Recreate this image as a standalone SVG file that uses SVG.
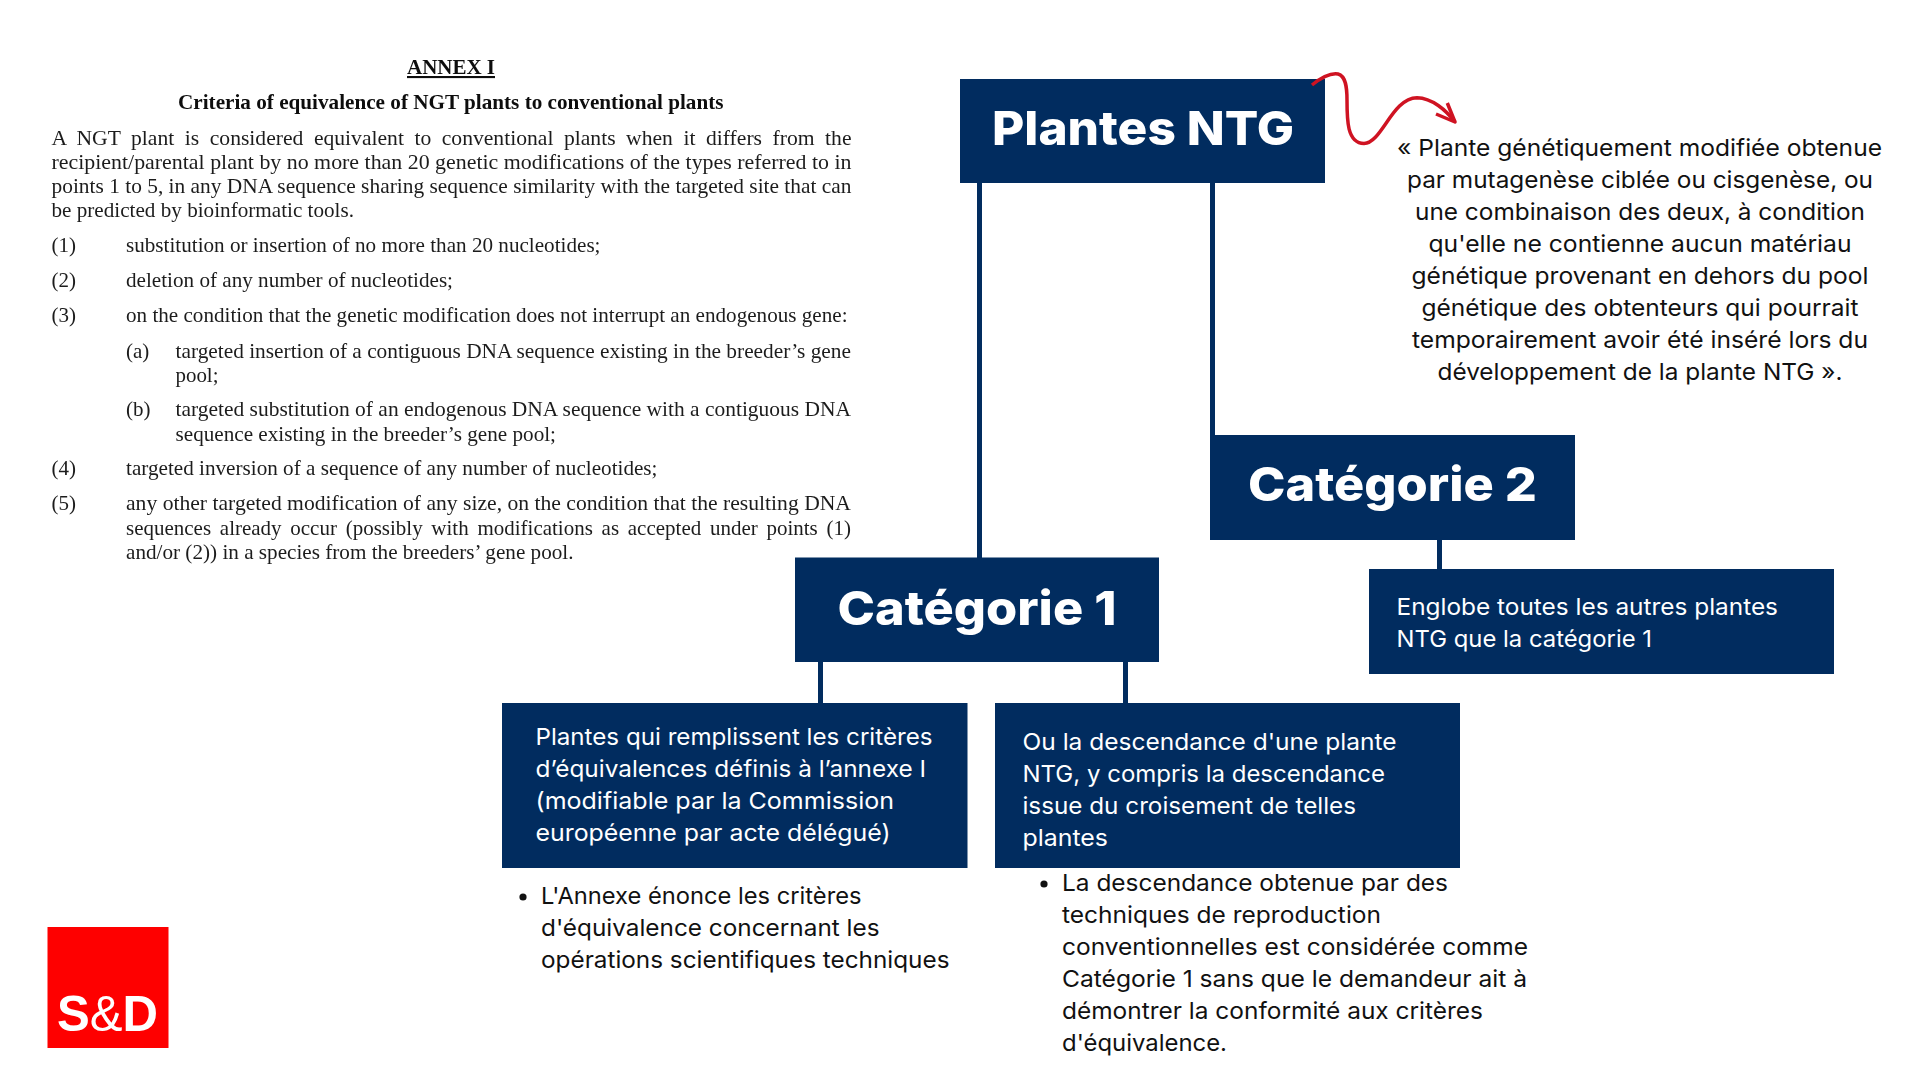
<svg xmlns="http://www.w3.org/2000/svg" width="1920" height="1080" viewBox="0 0 1920 1080">
<style>
.box{fill:#012c5f}
.link{stroke:#012c5f;stroke-width:5;fill:none}
.h{font-family:"Inter","Noto Sans",sans-serif;font-weight:800;font-size:47px;fill:#fff}
.w{font-family:"Inter","Noto Sans",sans-serif;font-size:23.5px;fill:#fff}
.k{font-family:"Inter","Noto Sans",sans-serif;font-size:23.5px;fill:#111}
.c{text-anchor:middle}
.d{font-family:"Liberation Serif","Times New Roman",serif;font-size:21px;fill:#1c1c1c}
.db{font-weight:700;fill:#111}
</style>
<defs>
<marker id="redhead" markerUnits="userSpaceOnUse" markerWidth="30" markerHeight="30" refX="25" refY="25" orient="0" viewBox="0 0 30 30"><path d="M6 17 L25 25 L17.3 6" fill="none" stroke="#cf1322" stroke-width="3.5" stroke-linejoin="round"/></marker>
<filter id="soft" x="-2%" y="-2%" width="104%" height="104%"><feGaussianBlur stdDeviation="0.4"/></filter>
</defs>
<rect width="1920" height="1080" fill="#fff"/>
<g id="annex-text" transform="translate(-0.5 -0.5)" filter="url(#soft)">
<text class="d db" x="407.5" y="74.5" textLength="88" lengthAdjust="spacingAndGlyphs" text-decoration="underline">ANNEX I</text>
<text class="d db" x="178.5" y="109" textLength="545.5" lengthAdjust="spacingAndGlyphs">Criteria of equivalence of NGT plants to conventional plants</text>
<text class="d" x="52" y="145" textLength="800" lengthAdjust="spacingAndGlyphs" word-spacing="5">A NGT plant is considered equivalent to conventional plants when it differs from the</text>
<text class="d" x="52" y="169" textLength="800" lengthAdjust="spacingAndGlyphs">recipient/parental plant by no more than 20 genetic modifications of the types referred to in</text>
<text class="d" x="52" y="193" textLength="800" lengthAdjust="spacingAndGlyphs">points 1 to 5, in any DNA sequence sharing sequence similarity with the targeted site that can</text>
<text class="d" x="52" y="217.5" textLength="302.5" lengthAdjust="spacingAndGlyphs">be predicted by bioinformatic tools.</text>
<text class="d" x="52" y="252.5">(1)</text>
<text class="d" x="126.5" y="252.5" textLength="474.5" lengthAdjust="spacingAndGlyphs">substitution or insertion of no more than 20 nucleotides;</text>
<text class="d" x="52" y="287">(2)</text>
<text class="d" x="126.5" y="287" textLength="327" lengthAdjust="spacingAndGlyphs">deletion of any number of nucleotides;</text>
<text class="d" x="52" y="322.5">(3)</text>
<text class="d" x="126.5" y="322.5" textLength="721.5" lengthAdjust="spacingAndGlyphs">on the condition that the genetic modification does not interrupt an endogenous gene:</text>
<text class="d" x="126.5" y="358">(a)</text>
<text class="d" x="176" y="358" textLength="675.5" lengthAdjust="spacingAndGlyphs">targeted insertion of a contiguous DNA sequence existing in the breeder’s gene</text>
<text class="d" x="176" y="382.5" textLength="43" lengthAdjust="spacingAndGlyphs">pool;</text>
<text class="d" x="126.5" y="416.5">(b)</text>
<text class="d" x="176" y="416.5" textLength="675.5" lengthAdjust="spacingAndGlyphs">targeted substitution of an endogenous DNA sequence with a contiguous DNA</text>
<text class="d" x="176" y="441.5" textLength="380.5" lengthAdjust="spacingAndGlyphs">sequence existing in the breeder’s gene pool;</text>
<text class="d" x="52" y="475.5">(4)</text>
<text class="d" x="126.5" y="475.5" textLength="531.5" lengthAdjust="spacingAndGlyphs">targeted inversion of a sequence of any number of nucleotides;</text>
<text class="d" x="52" y="510.5">(5)</text>
<text class="d" x="126.5" y="510.5" textLength="725" lengthAdjust="spacingAndGlyphs">any other targeted modification of any size, on the condition that the resulting DNA</text>
<text class="d" x="126.5" y="535" textLength="725" lengthAdjust="spacingAndGlyphs" word-spacing="3.5">sequences already occur (possibly with modifications as accepted under points (1)</text>
<text class="d" x="126.5" y="559" textLength="447.5" lengthAdjust="spacingAndGlyphs">and/or (2)) in a species from the breeders’ gene pool.</text>
</g>
<g id="connectors">
<path class="link" d="M979.5 183V558"/>
<path class="link" d="M1212.5 183V435"/>
<path class="link" d="M1439.5 540V569"/>
<path class="link" d="M820.5 662V703"/>
<path class="link" d="M1125.5 662V703"/>
</g>
<g id="plantes-ntg">
<rect class="box" x="960" y="79" width="365" height="104"/>
<text class="h" x="992" y="145" textLength="302" lengthAdjust="spacingAndGlyphs">Plantes NTG</text>
</g>
<g id="categorie-2">
<rect class="box" x="1210" y="435" width="365" height="105"/>
<text class="h" x="1248" y="501" textLength="289" lengthAdjust="spacingAndGlyphs">Catégorie 2</text>
</g>
<g id="categorie-1">
<rect class="box" x="795" y="557.5" width="364" height="104.5"/>
<text class="h" x="837.5" y="625" textLength="279" lengthAdjust="spacingAndGlyphs">Catégorie 1</text>
</g>
<g id="categorie-2-detail">
<rect class="box" x="1369" y="569" width="465" height="105"/>
<text class="w" x="1396.5" y="615" textLength="381.5" lengthAdjust="spacingAndGlyphs">Englobe toutes les autres plantes</text>
<text class="w" x="1396.5" y="647" textLength="255.5" lengthAdjust="spacingAndGlyphs">NTG que la catégorie 1</text>
</g>
<g id="categorie-1-criteres">
<rect class="box" x="502" y="703" width="465.5" height="165"/>
<text class="w" x="535.5" y="745" textLength="397" lengthAdjust="spacingAndGlyphs">Plantes qui remplissent les critères</text>
<text class="w" x="535.5" y="777" textLength="390.5" lengthAdjust="spacingAndGlyphs">d’équivalences définis à l’annexe I</text>
<text class="w" x="535.5" y="809" textLength="358.5" lengthAdjust="spacingAndGlyphs">(modifiable par la Commission</text>
<text class="w" x="535.5" y="841" textLength="355" lengthAdjust="spacingAndGlyphs">européenne par acte délégué)</text>
</g>
<g id="categorie-1-descendance">
<rect class="box" x="995" y="703" width="465" height="165"/>
<text class="w" x="1022.5" y="750" textLength="374" lengthAdjust="spacingAndGlyphs">Ou la descendance d'une plante</text>
<text class="w" x="1022.5" y="782" textLength="362.5" lengthAdjust="spacingAndGlyphs">NTG, y compris la descendance</text>
<text class="w" x="1022.5" y="814" textLength="333.5" lengthAdjust="spacingAndGlyphs">issue du croisement de telles</text>
<text class="w" x="1022.5" y="846" textLength="85.5" lengthAdjust="spacingAndGlyphs">plantes</text>
</g>
<g id="note-criteres">
<circle cx="523" cy="897" r="3.6" fill="#111"/>
<text class="k" x="541" y="904" textLength="320.5" lengthAdjust="spacingAndGlyphs">L'Annexe énonce les critères</text>
<text class="k" x="541" y="936" textLength="338.5" lengthAdjust="spacingAndGlyphs">d'équivalence concernant les</text>
<text class="k" x="541" y="968" textLength="408.5" lengthAdjust="spacingAndGlyphs">opérations scientifiques techniques</text>
</g>
<g id="note-descendance">
<circle cx="1044" cy="884" r="3.6" fill="#111"/>
<text class="k" x="1062" y="891" textLength="386" lengthAdjust="spacingAndGlyphs">La descendance obtenue par des</text>
<text class="k" x="1062" y="923" textLength="319" lengthAdjust="spacingAndGlyphs">techniques de reproduction</text>
<text class="k" x="1062" y="955" textLength="466" lengthAdjust="spacingAndGlyphs">conventionnelles est considérée comme</text>
<text class="k" x="1062" y="987" textLength="465" lengthAdjust="spacingAndGlyphs">Catégorie 1 sans que le demandeur ait à</text>
<text class="k" x="1062" y="1019" textLength="421" lengthAdjust="spacingAndGlyphs">démontrer la conformité aux critères</text>
<text class="k" x="1062" y="1051" textLength="165" lengthAdjust="spacingAndGlyphs">d'équivalence.</text>
</g>
<g id="definition">
<text class="k c" x="1639.5" y="156" textLength="485" lengthAdjust="spacingAndGlyphs">« Plante génétiquement modifiée obtenue</text>
<text class="k c" x="1640" y="188" textLength="466" lengthAdjust="spacingAndGlyphs">par mutagenèse ciblée ou cisgenèse, ou</text>
<text class="k c" x="1640" y="220" textLength="450" lengthAdjust="spacingAndGlyphs">une combinaison des deux, à condition</text>
<text class="k c" x="1640" y="252" textLength="423" lengthAdjust="spacingAndGlyphs">qu'elle ne contienne aucun matériau</text>
<text class="k c" x="1640" y="284" textLength="457" lengthAdjust="spacingAndGlyphs">génétique provenant en dehors du pool</text>
<text class="k c" x="1640" y="316" textLength="437" lengthAdjust="spacingAndGlyphs">génétique des obtenteurs qui pourrait</text>
<text class="k c" x="1640" y="348" textLength="456" lengthAdjust="spacingAndGlyphs">temporairement avoir été inséré lors du</text>
<text class="k c" x="1640" y="380" textLength="405" lengthAdjust="spacingAndGlyphs">développement de la plante NTG ».</text>
</g>
<path id="arrow" d="M1312 85C1322 77 1332 73 1338 74C1346 76 1347 88 1347 100C1347 120 1347 143 1364 143.5C1382 143 1392 98 1417 97.7C1432 98 1446 110 1455 122" fill="none" stroke="#cf1322" stroke-width="3.5" marker-end="url(#redhead)"/>
<g id="logo">
<rect x="47.5" y="927" width="121" height="121" fill="#fe0000"/>
<text x="57" y="1030.5" font-family="Liberation Sans,Arial,sans-serif" font-size="50" fill="#fff" textLength="101" lengthAdjust="spacingAndGlyphs"><tspan font-weight="700">S</tspan>&amp;<tspan font-weight="700">D</tspan></text>
</g>
</svg>
